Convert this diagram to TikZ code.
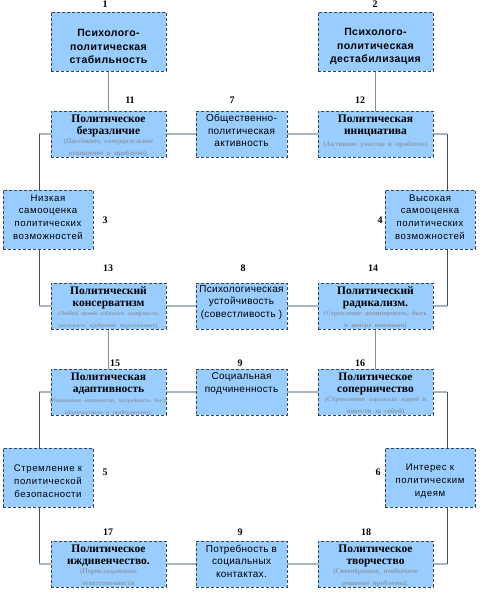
\documentclass[tikz,border=0pt]{standalone}
\usepackage{fontspec}
\setmainfont{Liberation Serif}
\setsansfont{Liberation Sans}
\usetikzlibrary{calc}
\pgfdeclarelayer{bg}
\pgfsetlayers{bg,main}
\definecolor{boxfill}{HTML}{99CCFF}
\definecolor{boxline}{HTML}{3A4450}
\definecolor{spine}{HTML}{3E4E60}
\definecolor{link}{HTML}{A8B4C0}
\definecolor{vlink}{HTML}{7F8FA0}
\definecolor{subtext}{HTML}{8C9AAA}
\newcommand{\headf}{\sffamily\bfseries\addfontfeature{LetterSpace=4}\fontsize{10.5}{13.5}\selectfont}
\newcommand{\sidef}{\sffamily\addfontfeature{LetterSpace=6}\fontsize{9.6}{12.7}\selectfont}
\newcommand{\midf}{\sffamily\addfontfeature{LetterSpace=3}\fontsize{10}{12.5}\selectfont}
\newcommand{\titf}{\rmfamily\bfseries\fontsize{11.5}{12}\selectfont}
\newcommand{\subf}{\rmfamily\fontsize{7}{9.5}\selectfont\color{subtext}}
\newcommand{\numf}{\rmfamily\bfseries\fontsize{10}{10}\selectfont}
\begin{document}
\begin{tikzpicture}[x=1pt,y=-1pt,
  boxbase/.style={draw=boxline, densely dashed, line width=0.6pt, fill=boxfill, inner sep=0pt},
  topbox/.style={boxbase, minimum width=115pt, minimum height=59pt},
  bigbox/.style={boxbase, minimum width=115pt, minimum height=46pt},
  midbox/.style={boxbase, minimum width=91pt, minimum height=46pt},
  sidebox/.style={boxbase, minimum width=90pt, minimum height=59pt},
  headtext/.style={inner sep=0pt, align=center, font=\headf},
  midtext/.style={inner sep=0pt, align=center, font=\midf},
  sidetext/.style={inner sep=0pt, align=center, font=\sidef},
  intext/.style={anchor=north, inner sep=0pt, text width=120pt, align=center},
  num/.style={font=\numf, inner sep=0pt},
  hlink/.style={draw=link, line width=1.4pt},
  vlinkst/.style={draw=vlink, line width=1pt},
  spinest/.style={draw=spine, line width=0.9pt}]
\useasboundingbox (0,0) rectangle (479,593);

% spine coordinates
\coordinate (L) at (39,0);
\coordinate (R) at (447,0);

% top boxes
\node[topbox] (b1) at (108.5,41.5) {};
\node[topbox] (b2) at (375.5,41.5) {};
\node[headtext] (t1) at (108.5,46.5) {Психолого-\\политическая\\стабильность};
\node[headtext] (t2) at (375.5,46.5) {Психолого-\\политическая\\дестабилизация};

% row 1
\node[bigbox] (b11) at (108.5,134) {};
\node[midbox] (b7) at (241.5,134) {};
\node[bigbox] (b12) at (375.5,134) {};
\node[midtext] (t7) at (241.5,130.5) {Общественно-\\политическая\\активность};

% side boxes
\node[sidebox] (b3) at (48,219.5) {};
\node[sidebox] (b4) at (430,219.5) {};
\node[sidetext] (t3) at (48,217) {Низкая\\самооценка\\политических\\возможностей};
\node[sidetext] (t4) at (430,217) {Высокая\\самооценка\\политических\\возможностей};

% row 2
\node[bigbox] (b13) at (108.5,306) {};
\node[midbox] (b8) at (241.5,306) {};
\node[bigbox] (b14) at (375.5,306) {};
\node[midtext] (t8) at (241.5,302.5) {Психологическая\\устойчивость\\(совестливость )};

% row 3
\node[bigbox] (b15) at (108.5,392) {};
\node[midbox] (b9) at (241.5,392) {};
\node[bigbox] (b16) at (375.5,392) {};
\node[midtext] (t9) at (241.5,383.5) {Социальная\\подчиненность};

% side boxes
\node[sidebox] (b5) at (48,477.5) {};
\node[sidebox] (b6) at (430,477.5) {};
\node[sidetext] (t5) at (48,481) {Стремление к\\политической\\безопасности};
\node[sidetext] (t6) at (430,481) {Интерес к\\политическим\\идеям};

% row 4
\node[bigbox] (b17) at (108.5,564) {};
\node[midbox] (b9b) at (241.5,564) {};
\node[bigbox] (b18) at (375.5,564) {};
\node[midtext] (t9b) at (241.5,561) {Потребность в\\социальных\\контактах.};

% texts in big boxes
\node[intext] (t11) at ([yshift=-4pt]b11.north) {\titf Политическое\\безразличие\\{\subf (Пассивное, созерцательное\\отношение к проблеме).}};
\node[intext] (t12) at ([yshift=-4pt]b12.north) {\titf Политическая\\инициатива\\{\subf (Активное участие в проблеме)}};
\node[intext] (t13) at ([yshift=-4pt]b13.north) {\titf Политический\\консерватизм\\{\subf\fontsize{5.9}{9}\selectfont (Любой ценой избежать конфликта,\\заслужить одобрение окружающих).}};
\node[intext] (t14) at ([yshift=-4pt]b14.north) {\titf Политический\\радикализм.\\{\subf\fontsize{6.5}{9}\selectfont (Стремление доминировать, быть\\в центре внимания)}};
\node[intext] (t15) at ([yshift=-4pt]b15.north) {\titf Политическая\\адаптивность\\{\subf\fontsize{5.7}{10}\selectfont (Понимание оппонентов, потребность быть\\сопричастным к необходимому).}};
\node[intext] (t16) at ([yshift=-4pt]b16.north) {\titf Политическое\\соперничество\\{\subf (Стремление заражать идеей и\\повести за собой)}};
\node[intext] (t17) at ([yshift=-4pt]b17.north) {\titf Политическое\\иждивенчество.\\{\subf (Перекладывание\\ответственности}};
\node[intext] (t18) at ([yshift=-4pt]b18.north) {\titf Политическое\\творчество\\{\subf (Своеобразное, необычное\\решение проблемы).}};

% number labels
\node[num] (n1) at (105,4) {1};
\node[num] (n2) at (375,4) {2};
\node[num] (n11) at (130,100) {11};
\node[num] (n7) at (232,100) {7};
\node[num] (n12) at (360,100) {12};
\node[num] (n3) at (105,220) {3};
\node[num] (n4) at (380,220) {4};
\node[num] (n13) at (108,268) {13};
\node[num] (n8) at (243,268) {8};
\node[num] (n14) at (373,268) {14};
\node[num] (n15) at (115,363) {15};
\node[num] (n9) at (240,363) {9};
\node[num] (n16) at (360,363) {16};
\node[num] (n5) at (105,472) {5};
\node[num] (n6) at (378,472) {6};
\node[num] (n17) at (108,532) {17};
\node[num] (n9b) at (240,532) {9};
\node[num] (n18) at (366,532) {18};

% connectors, drawn behind the boxes
\begin{pgfonlayer}{bg}
  \draw[vlinkst] (b1.south) -- (b11.north);
  \draw[vlinkst] (b2.south) -- (b12.north);
  \draw[hlink] (b11.east) -- (b7.west);
  \draw[hlink] (b7.east) -- (b12.west);
  \draw[hlink] (b13.east) -- (b8.west);
  \draw[hlink] (b8.east) -- (b14.west);
  \draw[hlink] (b15.east) -- (b9.west);
  \draw[hlink] (b9.east) -- (b16.west);
  \draw[hlink] (b17.east) -- (b9b.west);
  \draw[hlink] (b9b.east) -- (b18.west);
  \draw[vlinkst] (b13.south) -- (b15.north);
  \draw[vlinkst] (b14.south) -- (b16.north);
  % left spine
  \draw[hlink] (b11.west) -- (b11.west -| L);
  \draw[spinest] (b11.west -| L) -- (b3.north -| L);
  \draw[spinest] (b3.south -| L) -- (b13.west -| L);
  \draw[hlink] (b13.west -| L) -- (b13.west);
  \draw[hlink] (b15.west) -- (b15.west -| L);
  \draw[spinest] (b15.west -| L) -- (b5.north -| L);
  \draw[spinest] (b5.south -| L) -- (b17.west -| L);
  \draw[hlink] (b17.west -| L) -- (b17.west);
  % right spine
  \draw[hlink] (b12.east) -- (b12.east -| R);
  \draw[spinest] (b12.east -| R) -- (b4.north -| R);
  \draw[spinest] (b4.south -| R) -- (b14.east -| R);
  \draw[hlink] (b14.east -| R) -- (b14.east);
  \draw[hlink] (b16.east) -- (b16.east -| R);
  \draw[spinest] (b16.east -| R) -- (b6.north -| R);
  \draw[spinest] (b6.south -| R) -- (b18.east -| R);
  \draw[hlink] (b18.east -| R) -- (b18.east);
\end{pgfonlayer}
\end{tikzpicture}
\end{document}
